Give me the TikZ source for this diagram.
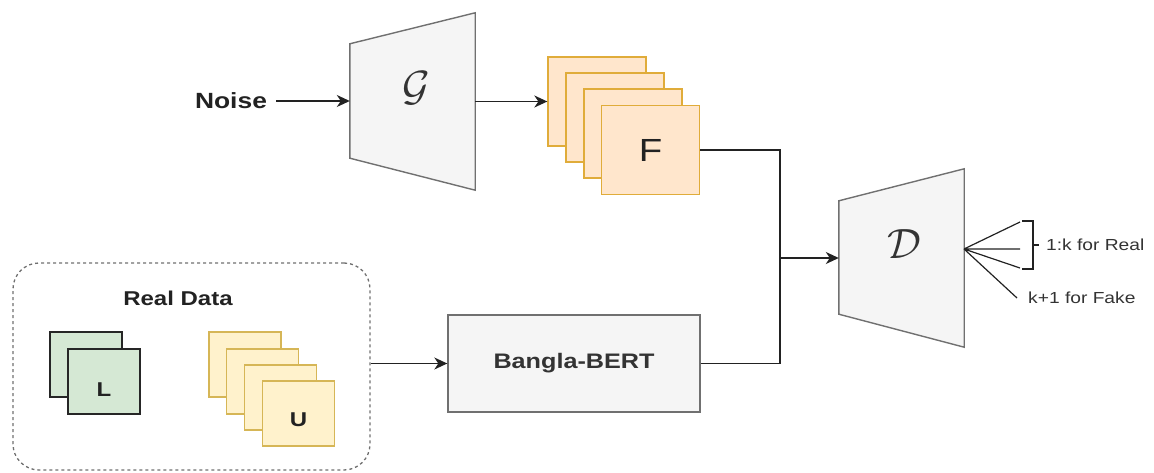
\documentclass[tikz,border=0pt]{standalone}
\usepackage{amsmath}
\usepackage{graphicx}
\usepackage{fontspec}
\setmainfont{Liberation Sans}
\usepackage{xcolor}
\usepackage{tikz}
\usetikzlibrary{arrows.meta}
\usetikzlibrary{calc}
\usetikzlibrary{positioning}

\definecolor{netfill}{HTML}{F5F5F5}
\definecolor{netline}{HTML}{707070}
\definecolor{fakefill}{HTML}{FFE6CC}
\definecolor{fakeline}{HTML}{E0AC3A}
\definecolor{unlfill}{HTML}{FFF2CC}
\definecolor{unlline}{HTML}{D6B656}
\definecolor{labfill}{HTML}{D5E8D4}
\definecolor{labline}{HTML}{262626}
\definecolor{txt}{HTML}{222222}
\definecolor{softtxt}{HTML}{333333}

\newcommand{\bigsym}[1]{\scalebox{1.7}{\fontsize{30}{30}\selectfont$#1$}}
\newcommand{\wtext}[1]{\scalebox{1.2}[1]{#1}}
\newcommand{\lowtext}[2]{\raisebox{#1}[\height][0pt]{\wtext{#2}}}

\tikzset{
  net/.style={draw=netline, fill=netfill, line width=1.4pt},
  flow/.style={draw=txt, line width=1.5pt},
  arr/.style={flow, -{Stealth[length=13pt, width=12pt, inset=4pt]}},
  fakecard/.style={draw=fakeline, fill=fakefill, line width=1.3pt, minimum width=98pt, minimum height=89pt},
  unlcard/.style={draw=unlline, fill=unlfill, line width=1.3pt, minimum width=72pt, minimum height=65pt},
  labcard/.style={draw=labline, fill=labfill, line width=1.3pt, minimum width=72pt, minimum height=65pt},
  bigtxt/.style={text=txt, font=\fontsize{20}{24}\selectfont\bfseries},
  cardtxt/.style={text=txt, font=\fontsize{20}{24}\selectfont\bfseries},
  smalltxt/.style={text=softtxt, font=\fontsize{16}{19}\selectfont}
}

\begin{document}
\begin{tikzpicture}[x=1pt, y=-1pt]
\useasboundingbox (0,0) rectangle (1154,473);
% generator
  \node[minimum width=125pt, minimum height=177pt, inner sep=0pt] (gen) at (412.5,101.5) {};
  \draw[net] ($(gen.north west)+(0,31)$) -- (gen.north east) -- (gen.south east) -- ($(gen.south west)+(0,-32)$) -- cycle;
  \node[text=softtxt] (glabel) at (416,88) {\bigsym{\mathcal{G}}};
  \node[bigtxt, font=\fontsize{22}{26}\selectfont\bfseries] (noise) at (231,101) {\wtext{Noise}};
% fake samples
  \node[fakecard] (f1) at (597,101.5) {};
  \node[fakecard] (f2) at (615,117.5) {};
  \node[fakecard] (f3) at (633,133.5) {};
  \node[fakecard, font=\fontsize{32}{32}\selectfont, text=txt] (f4) at (650.5,150) {\wtext{F}};
% discriminator
  \node[minimum width=125pt, minimum height=178pt, inner sep=0pt] (disc) at (901.5,258) {};
  \draw[net] ($(disc.north west)+(0,32)$) -- (disc.north east) -- (disc.south east) -- ($(disc.south west)+(0,-33)$) -- cycle;
  \node[text=softtxt] (dlabel) at (904,244) {\bigsym{\mathcal{D}}};
% real data
  \node[draw=netline, dashed, line width=1.3pt, rounded corners=26pt, minimum width=357pt, minimum height=207pt] (real) at (191.5,366.5) {};
  \node[bigtxt] (realtitle) at (178,298) {\wtext{Real Data}};
  \node[labcard] (l1) at (86,364.5) {};
  \node[labcard, cardtxt] (l2) at (104,381.5) {\lowtext{-8.5pt}{L}};
  \node[unlcard] (u1) at (245,364.5) {};
  \node[unlcard] (u2) at (262.5,381.5) {};
  \node[unlcard] (u3) at (280.5,397.5) {};
  \node[unlcard, cardtxt] (u4) at (298.5,413.5) {\lowtext{-6.5pt}{U}};
% encoder
  \node[net, minimum width=252pt, minimum height=97pt, bigtxt, font=\fontsize{21}{25}\selectfont\bfseries, text=softtxt] (bert) at (574,363.5) {\wtext{Bangla-BERT}};
% arrows
  \draw[arr, shorten <=6pt] (noise) -- (gen.west |- noise);
  \draw[arr] (gen.east |- f1) -- (f1);
  \draw[arr] (real.east |- bert) -- (bert);
  \coordinate (join) at (780,258);
  \draw[flow] (f4.east) -| (join);
  \draw[flow] (bert.east) -| (join);
  \draw[arr] (join) -- (disc.west |- join);
% outputs
  \coordinate (out) at (964,249);
  \coordinate (r1) at (1020,222);
  \coordinate (r2) at (1020,249);
  \coordinate (r3) at (1020,268);
  \coordinate (fk) at (1017,298);
  \draw[flow, line width=1.2pt] (out) -- (r1) (out) -- (r2) (out) -- (r3) (out) -- (fk);
  \draw[flow, line width=1.2pt] (1022,221) -- (1033,221) -- (1033,269) -- (1022,269) (1033,245) -- (1039,245);
  \node[smalltxt, anchor=west, inner sep=1pt] (realout) at (1045,245) {\wtext{1:k for Real}};
  \node[smalltxt, anchor=west, inner sep=1pt] (fakeout) at (1027,298) {\wtext{k+1 for Fake}};
\end{tikzpicture}
\end{document}
